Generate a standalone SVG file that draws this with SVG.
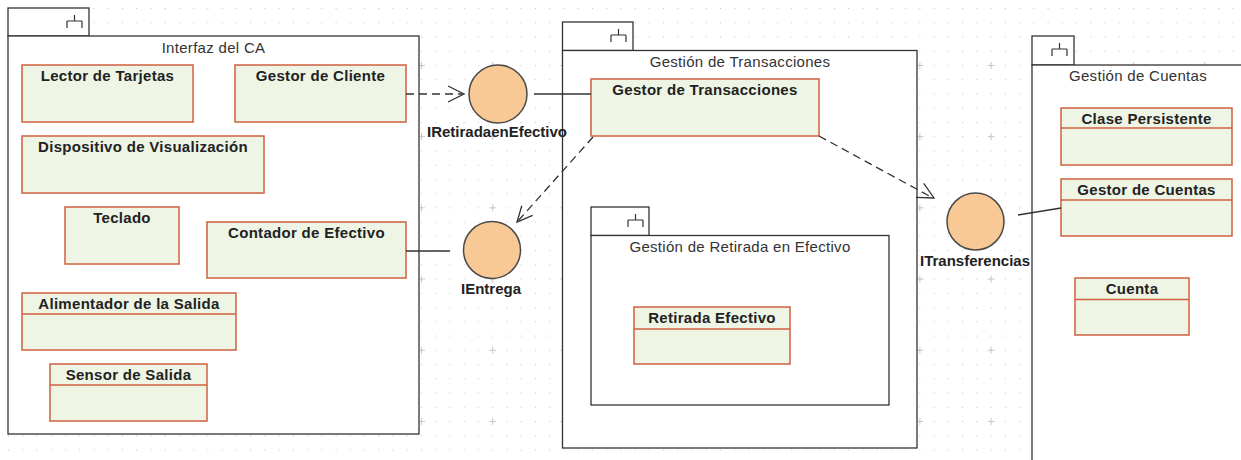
<svg xmlns="http://www.w3.org/2000/svg" width="1241" height="460" viewBox="0 0 1241 460">
<style>
.pkg{fill:#fff;stroke:#333;stroke-width:1.3}
.ptitle{font-family:"Liberation Sans",Arial,sans-serif;font-size:15px;fill:#333;text-anchor:middle;letter-spacing:0.3px}
.sym{fill:none;stroke:#333;stroke-width:1.2}
.cls{fill:#eef5e5;stroke:#d0603f;stroke-width:1.5}
.div{stroke:#d0603f;stroke-width:1.5}
.ctitle{font-family:"Liberation Sans",Arial,sans-serif;font-size:15px;font-weight:bold;fill:#222;text-anchor:middle;letter-spacing:0.3px}
.iface{fill:#f8c994;stroke:#4a4a4a;stroke-width:1.5}
.ilabel{font-family:"Liberation Sans",Arial,sans-serif;font-size:15px;font-weight:bold;fill:#222;text-anchor:middle}
.solid{fill:none;stroke:#333;stroke-width:1.3}
.dash{fill:none;stroke:#333;stroke-width:1.3;stroke-dasharray:8 5}
.head{fill:none;stroke:#333;stroke-width:1.3}
</style>
<defs>
<pattern id="dots" patternUnits="userSpaceOnUse" x="65" y="65" width="14.24" height="14.24">
<rect x="0" y="0" width="1" height="1" fill="#c2c2c2"/>
</pattern>
<pattern id="plus" patternUnits="userSpaceOnUse" x="62" y="62" width="71.2" height="71.2">
<path d="M0 3.5H7M3.5 0V7" stroke="#cbc3c3" stroke-width="1"/>
</pattern>
</defs>
<rect width="1241" height="460" fill="#fff"/>
<rect width="1241" height="460" fill="url(#dots)"/>
<rect width="1241" height="460" fill="url(#plus)"/>

<g id="pkg-interfaz">
<rect class="pkg" x="8" y="8" width="81" height="28"/>
<rect class="pkg" x="8" y="36" width="411" height="398"/>
<path class="sym" d="M74.5 15V21M67 21H82M67 21V28M82 21V28"/>
<text class="ptitle" x="213.5" y="53">Interfaz del CA</text>
</g>

<g id="pkg-transacciones">
<rect class="pkg" x="562.5" y="22" width="70.5" height="28.5"/>
<rect class="pkg" x="562.5" y="50.5" width="354.5" height="397.5"/>
<path class="sym" d="M618.5 29V35M611 35H626M611 35V42M626 35V42"/>
<text class="ptitle" x="740" y="67">Gestión de Transacciones</text>
</g>

<g id="pkg-retirada">
<rect class="pkg" x="591" y="207" width="58" height="28.5"/>
<rect class="pkg" x="591" y="235.5" width="298" height="169.5"/>
<path class="sym" d="M635.5 214V220M628 220H643M628 220V227M643 220V227"/>
<text class="ptitle" x="740" y="252">Gestión de Retirada en Efectivo</text>
</g>

<g id="pkg-cuentas">
<rect class="pkg" x="1032" y="36" width="42" height="29"/>
<rect class="pkg" x="1032" y="65" width="220" height="410"/>
<path class="sym" d="M1059.5 43V49M1052 49H1067M1052 49V56M1067 49V56"/>
<text class="ptitle" x="1138" y="81">Gestión de Cuentas</text>
</g>

<g id="lector-tarjetas">
<rect class="cls" x="22" y="65" width="171" height="57"/>
<text class="ctitle" x="107.5" y="81">Lector de Tarjetas</text>
</g>
<g id="gestor-cliente">
<rect class="cls" x="235" y="65" width="171" height="57"/>
<text class="ctitle" x="320.5" y="81">Gestor de Cliente</text>
</g>
<g id="dispositivo-visualizacion">
<rect class="cls" x="22" y="136" width="242" height="57"/>
<text class="ctitle" x="143" y="152">Dispositivo de Visualización</text>
</g>
<g id="teclado">
<rect class="cls" x="65" y="207" width="114" height="57"/>
<text class="ctitle" x="122" y="223">Teclado</text>
</g>
<g id="contador-efectivo">
<rect class="cls" x="207" y="222" width="199" height="56"/>
<text class="ctitle" x="306.5" y="238">Contador de Efectivo</text>
</g>
<g id="alimentador-salida">
<rect class="cls" x="22" y="293" width="214" height="57"/>
<line class="div" x1="22" y1="314" x2="236" y2="314"/>
<text class="ctitle" x="129" y="309">Alimentador de la Salida</text>
</g>
<g id="sensor-salida">
<rect class="cls" x="50" y="364" width="157" height="57"/>
<line class="div" x1="50" y1="385" x2="207" y2="385"/>
<text class="ctitle" x="128.5" y="380">Sensor de Salida</text>
</g>
<g id="gestor-transacciones">
<rect class="cls" x="591" y="79" width="228" height="57"/>
<text class="ctitle" x="705" y="95">Gestor de Transacciones</text>
</g>
<g id="retirada-efectivo">
<rect class="cls" x="634" y="307" width="156" height="57"/>
<line class="div" x1="634" y1="329" x2="790" y2="329"/>
<text class="ctitle" x="712" y="323">Retirada Efectivo</text>
</g>
<g id="clase-persistente">
<rect class="cls" x="1061" y="108" width="171" height="57"/>
<line class="div" x1="1061" y1="128" x2="1232" y2="128"/>
<text class="ctitle" x="1146.5" y="124">Clase Persistente</text>
</g>
<g id="gestor-cuentas">
<rect class="cls" x="1061" y="179" width="171" height="57"/>
<line class="div" x1="1061" y1="200" x2="1232" y2="200"/>
<text class="ctitle" x="1146.5" y="195">Gestor de Cuentas</text>
</g>
<g id="cuenta">
<rect class="cls" x="1075" y="278" width="114" height="57"/>
<line class="div" x1="1075" y1="299.5" x2="1189" y2="299.5"/>
<text class="ctitle" x="1132" y="294">Cuenta</text>
</g>

<g id="i-retirada">
<circle class="iface" cx="498" cy="94" r="29"/>
<text class="ilabel" x="497" y="137">IRetiradaenEfectivo</text>
</g>
<g id="i-entrega">
<circle class="iface" cx="492" cy="250" r="28.5"/>
<text class="ilabel" x="491" y="294">IEntrega</text>
</g>
<g id="i-transferencias">
<circle class="iface" cx="975.5" cy="221.5" r="28.5"/>
<text class="ilabel" x="975" y="266">ITransferencias</text>
</g>

<g id="connectors">
<path class="dash" d="M406 94H463"/>
<path class="head" d="M448 86L464 94L448 102"/>
<path class="solid" d="M534 94H591"/>
<path class="solid" d="M406 251H450"/>
<path class="dash" d="M593 137L518 221"/>
<path class="head" d="M532.6 215.3L517 222L521.8 205.7"/>
<path class="dash" d="M819 136L933 198"/>
<path class="head" d="M923.7 183.4L934 198L916.1 197.4"/>
<path class="solid" d="M1018 215L1061 208"/>
</g>
</svg>
